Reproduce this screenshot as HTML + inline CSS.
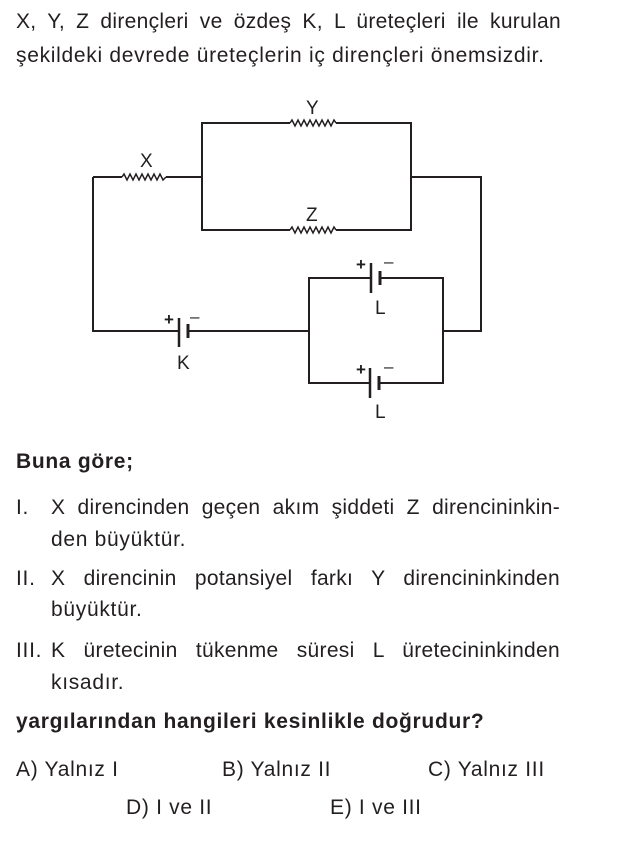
<!DOCTYPE html>
<html><head><meta charset="utf-8"><style>
body{margin:0;width:623px;height:848px;background:#fff;position:relative;font-family:"Liberation Sans",Arial,sans-serif;color:#231f20;overflow:hidden}
.l{position:absolute;font-size:21px;letter-spacing:0.7px;white-space:nowrap;line-height:24px}
.j{text-align:justify;text-align-last:justify;white-space:normal;letter-spacing:0.3px}
b{font-weight:bold;letter-spacing:0.7px}
</style></head><body>
<div class="l j" style="left:16px;top:10px;width:545px">X, Y, Z dirençleri ve özdeş K, L üreteçleri ile kurulan</div>
<div class="l" style="left:16px;top:44px">şekildeki devrede üreteçlerin iç dirençleri önemsizdir.</div>

<svg style="position:absolute;left:0;top:0" width="623" height="430" font-family="Liberation Sans,Arial,sans-serif" font-size="19" fill="none" stroke="#231f20" stroke-width="2">
<polyline points="93,177 93,331 179,331"/>
<line x1="93" y1="177" x2="122" y2="177"/>
<polyline points="122,177 124,174 127,180 130,174 133,180 136,174 139,180 142,174 145,180 148,174 151,180 154,174 157,180 160,174 163,180 166,177" stroke-width="1.5"/>
<line x1="166" y1="177" x2="202" y2="177"/>
<polyline points="290,123 202,123 202,230 290,230"/>
<polyline points="290,123 292,120 295,126 298,120 301,126 304,120 307,126 310,120 313,126 316,120 319,126 322,120 325,126 328,120 331,126 334,120 336,123" stroke-width="1.5"/>
<polyline points="290,230 292,227 295,233 298,227 301,233 304,227 307,233 310,227 313,233 316,227 319,233 322,227 325,233 328,227 331,233 334,227 336,230" stroke-width="1.5"/>
<polyline points="336,123 411,123 411,230 336,230"/>
<polyline points="411,177 481,177 481,331 443,331"/>
<line x1="188" y1="331" x2="309" y2="331"/>
<line x1="179" y1="318" x2="179" y2="347" stroke-width="2.5"/>
<line x1="188" y1="324" x2="188" y2="338" stroke-width="3"/>
<polyline points="371,278 309,278 309,383 370,383"/>
<polyline points="380,278 443,278 443,383 379,383"/>
<line x1="371" y1="263" x2="371" y2="293" stroke-width="2.5"/>
<line x1="380" y1="271" x2="380" y2="285" stroke-width="3"/>
<line x1="370" y1="368" x2="370" y2="398" stroke-width="2.5"/>
<line x1="379" y1="376" x2="379" y2="390" stroke-width="3"/>
<g fill="#231f20" stroke="none">
<text x="140" y="167">X</text>
<text x="306" y="114">Y</text>
<text x="306" y="221">Z</text>
<text x="177" y="369">K</text>
<text x="375" y="314">L</text>
<text x="375" y="418">L</text>
<text x="164" y="325" font-size="17" font-weight="bold">+</text>
<text x="190" y="322" font-size="17">–</text>
<text x="356" y="270" font-size="17" font-weight="bold">+</text>
<text x="384" y="267" font-size="17">–</text>
<text x="356" y="375" font-size="17" font-weight="bold">+</text>
<text x="384" y="372" font-size="17">–</text>
</g>
</svg>

<div class="l" style="left:16px;top:450px"><b>Buna göre;</b></div>
<div class="l" style="left:16px;top:496px">I.</div>
<div class="l j" style="left:51px;top:496px;width:509px">X direncinden geçen akım şiddeti Z direncininkin-</div>
<div class="l" style="left:51px;top:528px">den büyüktür.</div>
<div class="l" style="left:16px;top:567px">II.</div>
<div class="l j" style="left:51px;top:567px;width:509px">X direncinin potansiyel farkı Y direncininkinden</div>
<div class="l" style="left:51px;top:598px">büyüktür.</div>
<div class="l" style="left:16px;top:639px">III.</div>
<div class="l j" style="left:51px;top:639px;width:509px">K üretecinin tükenme süresi L üretecininkinden</div>
<div class="l" style="left:51px;top:671px">kısadır.</div>
<div class="l" style="left:16px;top:710px"><b>yargılarından hangileri kesinlikle doğrudur?</b></div>
<div class="l" style="left:16px;top:758px">A) Yalnız I</div>
<div class="l" style="left:222px;top:758px">B) Yalnız II</div>
<div class="l" style="left:428px;top:758px">C) Yalnız III</div>
<div class="l" style="left:126px;top:796px">D) I ve II</div>
<div class="l" style="left:330px;top:796px">E) I ve III</div>
</body></html>
